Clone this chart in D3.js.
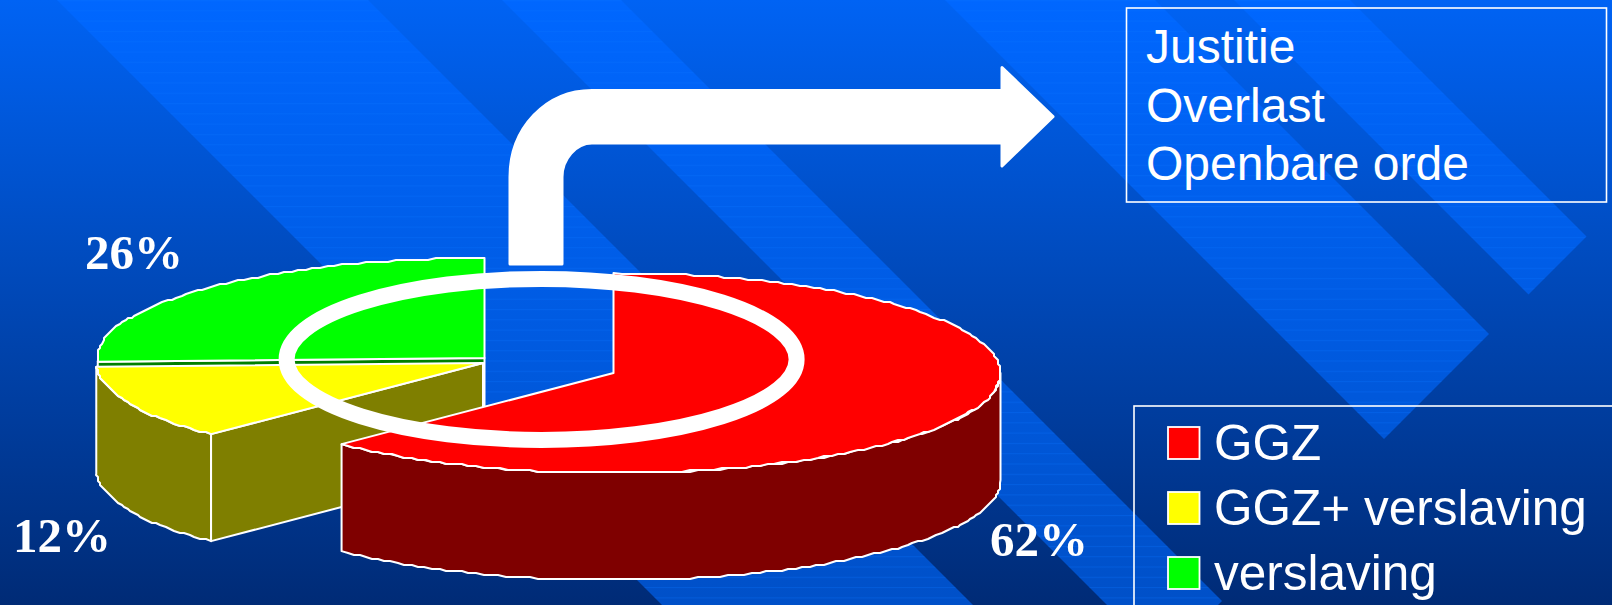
<!DOCTYPE html>
<html lang="en">
<head>
  <meta charset="utf-8">
  <script src="https://d3js.org/d3.v7.min.js"></script>
  <style>
    html, body { margin: 0; padding: 0; background: #002b76; overflow: hidden; }
    svg { display: block; }
  </style>
</head>
<body>
  <div id="chart"></div>
  <script>
  // data
  const categories = ["GGZ", "GGZ+ verslaving", "verslaving"]
  const shares = [62.4, 12, 25.6] // labels round these, angles measured off the slices
  const shareLabels = ["62%", "12%", "26%"]
  const topColors = ["#ff0000", "#ffff00", "#00ff00"]
  const sideColors = ["#7f0000", "#7f7f00", "#007f00"]
  const boxLines = ["Justitie", "Overlast", "Openbare orde"]

  // layout
  const width = 1612
  const height = 605
  const rx = 387
  const ry = 100
  const depth = 107
  const centres = [[613.5, 373], [483, 363], [484.5, 358]]
  const labelPos = [[990, 556], [13, 552], [85, 269]]
  const bands = [[57, 368], [502, 621], [945, 1155], [1234, 1350]] // x - y of both edges
  const bandEnd = 1823 // x + y where the bands stop

  const svg = d3.select("#chart").append("svg")
    .attr("width", width)
    .attr("height", height)
    .attr("viewBox", [0, 0, width, height])

  const defs = svg.append("defs")

  function vertical(id, from, to) {
    const g = defs.append("linearGradient").attr("id", id)
      .attr("gradientUnits", "userSpaceOnUse")
      .attr("x1", 0).attr("y1", 0).attr("x2", 0).attr("y2", height)
    g.append("stop").attr("offset", 0).attr("stop-color", from)
    g.append("stop").attr("offset", 1).attr("stop-color", to)
  }
  vertical("base", "#0063f4", "#002b76")
  vertical("band", "#0067ff", "#0050c8")

  const stripes = defs.append("pattern").attr("id", "stripes")
    .attr("patternUnits", "userSpaceOnUse")
    .attr("width", 40).attr("height", 10.3)
  stripes.append("rect").attr("width", 40).attr("height", 1)
    .attr("fill", "#0a74ff").attr("opacity", 0.3)

  ////////////////////// background //////////////////////
  svg.append("rect").attr("width", width).attr("height", height).attr("fill", "url(#base)")

  const bandPoints = ([a, b]) => {
    // corners: top of both edges, tip, lower end
    const tip = [(bandEnd + b) / 2, (bandEnd - b) / 2]
    const low = [(bandEnd + a) / 2, (bandEnd - a) / 2]
    return [[a - 400, -400], [b - 400, -400], tip, low]
  }
  const bandG = svg.append("g")
  bandG.selectAll(".band").data(bands).join("polygon")
    .attr("class", "band")
    .attr("points", d => bandPoints(d).join(" "))
    .attr("fill", "url(#band)")
  bandG.selectAll(".stripe").data(bands).join("polygon")
    .attr("class", "stripe")
    .attr("points", d => bandPoints(d).join(" "))
    .attr("fill", "url(#stripes)")

  ////////////////////// pie //////////////////////
  const pie = d3.pie().sort(null).value(d => d)
  const slices = pie(shares).map((d, i) => ({ ...d, i, c: centres[i] }))

  const snap = v => Math.round(v / 2) * 2
  const project = (a, c, z = 0) => [c[0] + rx * Math.sin(a), c[1] - ry * Math.cos(a) + z]

  // rim of a slice, stepped like the low resolution original
  function rim(from, to, c, z = 0) {
    const n = Math.max(2, Math.ceil((to - from) / (Math.PI / 150)))
    return d3.range(n + 1).map(k => {
      const a = from + (to - from) * k / n
      const p = project(a, c)
      if (k === 0 || k === n) return [p[0], p[1] + z]
      return [snap(p[0]), snap(p[1]) + z]
    })
  }

  const outline = d3.line().curve(d3.curveLinear)
  const shape = pts => outline(pts) + "Z"
  const pieG = svg.append("g")
    .attr("stroke", "#fff").attr("stroke-width", 2).attr("stroke-linejoin", "round")

  function wall(s) {
    // only the part of the rim that faces the viewer
    const from = Math.max(s.startAngle, Math.PI / 2)
    const to = Math.min(s.endAngle, Math.PI * 1.5)
    if (to <= from) return
    pieG.append("path")
      .attr("d", shape(rim(from, to, s.c).concat(rim(from, to, s.c, depth).reverse())))
      .attr("fill", sideColors[s.i])
  }

  function cutFace(s, a) {
    const p = project(a, s.c)
    pieG.append("path")
      .attr("d", shape([s.c, p, [p[0], p[1] + depth], [s.c[0], s.c[1] + depth]]))
      .attr("fill", sideColors[s.i])
  }

  function topFace(s) {
    pieG.append("path")
      .attr("d", shape([s.c].concat(rim(s.startAngle, s.endAngle, s.c))))
      .attr("fill", topColors[s.i])
  }

  // back to front: green, yellow, red
  const [red, yellow, green] = slices
  cutFace(green, green.startAngle)
  topFace(green)
  wall(yellow)
  cutFace(yellow, yellow.startAngle)
  topFace(yellow)
  wall(red)
  topFace(red)

  // ring over the pie
  svg.append("ellipse")
    .attr("cx", 541.6).attr("cy", 359.4).attr("rx", 255).attr("ry", 80.5)
    .attr("fill", "none").attr("stroke", "#fff").attr("stroke-width", 16)

  // share labels
  svg.append("g").selectAll("text").data(shareLabels).join("text")
    .attr("x", (d, i) => labelPos[i][0])
    .attr("y", (d, i) => labelPos[i][1])
    .attr("fill", "#fff")
    .attr("font-family", "'Liberation Serif', serif")
    .attr("font-weight", "bold")
    .attr("font-size", 49)
    .text(d => d)

  ////////////////////// arrow //////////////////////
  const arrow = d3.path()
  arrow.moveTo(510, 264)
  arrow.lineTo(510, 177)
  arrow.bezierCurveTo(510, 128, 546, 90.5, 592, 90.5)
  arrow.lineTo(1002, 90.5)
  arrow.lineTo(1002, 67.5)
  arrow.lineTo(1053, 116.7)
  arrow.lineTo(1002, 166)
  arrow.lineTo(1002, 143)
  arrow.lineTo(592, 143)
  arrow.bezierCurveTo(576, 143, 562, 159, 562, 177)
  arrow.lineTo(562, 264)
  arrow.closePath()
  svg.append("path").attr("d", arrow.toString())
    .attr("fill", "#fff").attr("stroke", "#fff").attr("stroke-width", 3).attr("stroke-linejoin", "round")

  ////////////////////// text box //////////////////////
  svg.append("rect")
    .attr("x", 1126.5).attr("y", 8).attr("width", 480).attr("height", 194)
    .attr("fill", "none").attr("stroke", "#fff").attr("stroke-width", 1.6)

  const boxY = d3.scalePoint().domain(boxLines).range([63, 180])
  svg.append("g").selectAll("text").data(boxLines).join("text")
    .attr("x", 1146)
    .attr("y", d => boxY(d))
    .attr("fill", "#fff")
    .attr("font-family", "'Liberation Sans', sans-serif")
    .attr("font-size", 48)
    .text(d => d)

  ////////////////////// legend //////////////////////
  svg.append("rect")
    .attr("x", 1134).attr("y", 406).attr("width", 600).attr("height", 300)
    .attr("fill", "none").attr("stroke", "#fff").attr("stroke-width", 1.6)

  const legendY = d3.scalePoint().domain(categories).range([443, 573])
  const legend = svg.append("g").selectAll("g").data(categories).join("g")
    .attr("transform", d => `translate(0,${legendY(d)})`)
  legend.append("rect")
    .attr("x", 1168).attr("y", -16).attr("width", 31.5).attr("height", 32)
    .attr("fill", (d, i) => topColors[i])
    .attr("stroke", "#fff").attr("stroke-width", 1.8)
  legend.append("text")
    .attr("x", 1214)
    .attr("y", 17)
    .attr("fill", "#fff")
    .attr("font-family", "'Liberation Sans', sans-serif")
    .attr("font-size", 49.5)
    .text(d => d)
  </script>
</body>
</html>
